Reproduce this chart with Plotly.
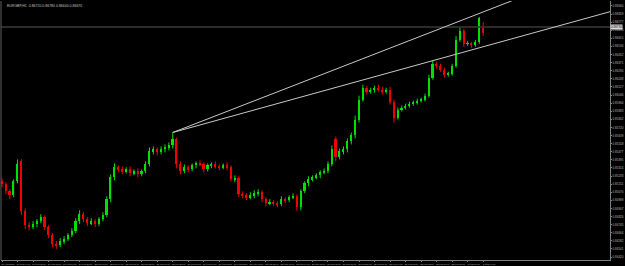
import plotly.graph_objects as go

# ---------------- data ----------------
opens = [0.8518,0.8515,0.8508,0.8504,0.8518,0.8538,0.8488,0.8474,0.8472,0.8475,
         0.8478,0.8482,0.8472,0.8464,0.8455,0.8454,0.8458,0.8460,0.8464,0.8468,
         0.8478,0.8485,0.8480,0.8476,0.8478,0.8475,0.8480,0.8484,0.8500,0.8522,
         0.8532,0.8530,0.8528,0.8530,0.8526,0.8528,0.8525,0.8528,0.8535,0.8548,
         0.8550,0.8547,0.8550,0.8552,0.8554,0.8560,0.8535,0.8528,0.8532,0.8530,
         0.8534,0.8536,0.8535,0.8530,0.8534,0.8535,0.8533,0.8532,0.8534,0.8532,
         0.8520,0.8521,0.8505,0.8504,0.8502,0.8504,0.8506,0.8507,0.8500,0.8496,
         0.8497,0.8496,0.8495,0.8500,0.8499,0.8502,0.8503,0.8492,0.8508,0.8516,
         0.8520,0.8522,0.8524,0.8527,0.8528,0.8535,0.8560,0.8542,0.8548,0.8550,
         0.8558,0.8564,0.8580,0.8600,0.8612,0.8608,0.8610,0.8612,0.8610,0.8608,
         0.8610,0.8598,0.8582,0.8590,0.8592,0.8594,0.8596,0.8597,0.8599,0.8600,
         0.8604,0.8622,0.8636,0.8634,0.8630,0.8625,0.8626,0.8634,0.8660,0.8669,
         0.8656,0.8656,0.8655,0.8658,0.8672]
highs = [0.8521,0.8517,0.8510,0.8520,0.8540,0.8540,0.8491,0.8477,0.8478,0.8480,
         0.8485,0.8484,0.8474,0.8466,0.8458,0.8461,0.8463,0.8466,0.8471,0.8481,
         0.8489,0.8487,0.8482,0.8481,0.8480,0.8482,0.8487,0.8503,0.8525,0.8536,
         0.8534,0.8533,0.8532,0.8533,0.8530,0.8531,0.8530,0.8538,0.8552,0.8553,
         0.8552,0.8553,0.8555,0.8557,0.8567,0.8562,0.8538,0.8535,0.8534,0.8536,
         0.8538,0.8539,0.8537,0.8536,0.8537,0.8538,0.8535,0.8536,0.8537,0.8534,
         0.8524,0.8523,0.8508,0.8506,0.8507,0.8509,0.8510,0.8509,0.8502,0.8500,
         0.8499,0.8498,0.8503,0.8502,0.8504,0.8506,0.8505,0.8510,0.8518,0.8523,
         0.8524,0.8526,0.8529,0.8531,0.8538,0.8554,0.8563,0.8551,0.8553,0.8561,
         0.8567,0.8584,0.8604,0.8615,0.8614,0.8612,0.8614,0.8615,0.8613,0.8612,
         0.8613,0.8600,0.8592,0.8594,0.8596,0.8598,0.8599,0.8601,0.8602,0.8606,
         0.8625,0.8639,0.8638,0.8636,0.8632,0.8628,0.8636,0.8664,0.8672,0.8671,
         0.8659,0.8658,0.8660,0.8683,0.8678]
lows = [0.8512,0.8505,0.8500,0.8502,0.8516,0.8484,0.8470,0.8469,0.8470,0.8472,
        0.8476,0.8469,0.8461,0.8452,0.8450,0.8452,0.8455,0.8458,0.8462,0.8466,
        0.8475,0.8477,0.8473,0.8474,0.8472,0.8473,0.8478,0.8482,0.8497,0.8519,
        0.8527,0.8525,0.8526,0.8523,0.8524,0.8522,0.8523,0.8526,0.8533,0.8545,
        0.8544,0.8545,0.8547,0.8549,0.8551,0.8531,0.8525,0.8526,0.8527,0.8528,
        0.8531,0.8533,0.8527,0.8528,0.8531,0.8531,0.8529,0.8530,0.8529,0.8518,
        0.8517,0.8502,0.8501,0.8499,0.8500,0.8501,0.8503,0.8497,0.8493,0.8494,
        0.8493,0.8492,0.8493,0.8496,0.8497,0.8500,0.8488,0.8489,0.8506,0.8513,
        0.8518,0.8520,0.8521,0.8525,0.8526,0.8533,0.8538,0.8540,0.8545,0.8547,
        0.8555,0.8561,0.8577,0.8598,0.8605,0.8606,0.8607,0.8608,0.8605,0.8606,
        0.8595,0.8577,0.8580,0.8588,0.8590,0.8592,0.8594,0.8595,0.8597,0.8598,
        0.8602,0.8620,0.8631,0.8628,0.8622,0.8623,0.8624,0.8632,0.8658,0.8653,
        0.8654,0.8652,0.8653,0.8656,0.8664]
closes = [0.8515,0.8508,0.8504,0.8518,0.8535,0.8488,0.8474,0.8472,0.8475,0.8478,
          0.8482,0.8472,0.8464,0.8455,0.8454,0.8458,0.8460,0.8464,0.8468,0.8478,
          0.8485,0.8480,0.8476,0.8478,0.8475,0.8480,0.8484,0.8500,0.8522,0.8532,
          0.8530,0.8528,0.8530,0.8526,0.8528,0.8525,0.8528,0.8535,0.8548,0.8550,
          0.8547,0.8550,0.8552,0.8554,0.8560,0.8535,0.8528,0.8532,0.8530,0.8534,
          0.8536,0.8535,0.8530,0.8534,0.8535,0.8533,0.8532,0.8534,0.8532,0.8520,
          0.8521,0.8505,0.8504,0.8502,0.8504,0.8506,0.8507,0.8500,0.8496,0.8497,
          0.8496,0.8495,0.8500,0.8499,0.8502,0.8503,0.8492,0.8508,0.8516,0.8520,
          0.8522,0.8524,0.8527,0.8528,0.8535,0.8550,0.8542,0.8548,0.8550,0.8558,
          0.8564,0.8580,0.8600,0.8612,0.8608,0.8610,0.8612,0.8610,0.8608,0.8610,
          0.8598,0.8582,0.8590,0.8592,0.8594,0.8596,0.8597,0.8599,0.8600,0.8604,
          0.8622,0.8636,0.8634,0.8630,0.8625,0.8626,0.8634,0.8660,0.8669,0.8656,
          0.8656,0.8655,0.8658,0.8682,0.8667]

time_labels = ["24 Feb 2020","24 Feb 04:00","24 Feb 08:00","24 Feb 12:00","24 Feb 16:00",
               "24 Feb 20:00","25 Feb 00:00","25 Feb 04:00","25 Feb 08:00","25 Feb 12:00",
               "25 Feb 16:00","25 Feb 20:00","26 Feb 00:00","26 Feb 04:00","26 Feb 08:00",
               "26 Feb 12:00","26 Feb 16:00","26 Feb 20:00","27 Feb 00:00","27 Feb 04:00",
               "27 Feb 08:00","27 Feb 12:00","27 Feb 16:00","27 Feb 20:00","28 Feb 00:00",
               "28 Feb 04:00","28 Feb 08:00","28 Feb 12:00","28 Feb 16:00","28 Feb 20:00",
               "2 Mar 00:00","2 Mar 04:00"]
label_bars = [0,4,8,12,16,20,24,28,32,36,40,44,48,52,56,60,64,68,72,76,80,84,88,92,96,
              100,104,108,112,116,120,124]

price_ticks = [0.86940,0.86859,0.86777,0.86696,0.86615,0.86534,0.86452,0.86371,0.86290,
               0.86208,0.86127,0.86046,0.85964,0.85883,0.85802,0.85720,0.85639,0.85558,
               0.85477,0.85395,0.85314,0.85233,0.85151,0.85070,0.84989,0.84907,0.84826,
               0.84745,0.84664,0.84582,0.84501,0.84420]

trend_upper_bars = [44, 160]
trend_upper_prices = [0.8567, 0.87425]
trend_lower_bars = [44, 157]
trend_lower_prices = [0.8567, 0.86886]

bid_price = 0.8673
header_text = "EURGBP,H1  0.86720 0.86780 0.86640 0.86670"

# ---------------- figure ----------------
UP = "#00e000"
DN = "#f00000"
MIN_BODY = 0.00003

fig = go.Figure()

for is_up, col in ((True, UP), (False, DN)):
    idx = [i for i in range(len(closes)) if (closes[i] >= opens[i]) == is_up]
    wx, wy = [], []
    for i in idx:
        wx += [i, i, None]
        wy += [lows[i], highs[i], None]
    fig.add_trace(go.Scatter(x=wx, y=wy, mode="lines", line=dict(color=col, width=1),
                             hoverinfo="skip", showlegend=False, connectgaps=False))
    fig.add_trace(go.Bar(x=idx,
                         y=[max(abs(closes[i] - opens[i]), MIN_BODY) for i in idx],
                         base=[min(closes[i], opens[i]) for i in idx],
                         width=0.42, marker=dict(color=col, line=dict(width=0)),
                         hoverinfo="skip", showlegend=False))

# bid line
fig.add_trace(go.Scatter(x=[-1, 170], y=[bid_price, bid_price], mode="lines",
                         line=dict(color="#3a3a3a", width=1.5), hoverinfo="skip",
                         showlegend=False))
# trendlines
fig.add_trace(go.Scatter(x=trend_upper_bars, y=trend_upper_prices, mode="lines",
                         line=dict(color="#c8c8c8", width=1), hoverinfo="skip",
                         showlegend=False))
fig.add_trace(go.Scatter(x=trend_lower_bars, y=trend_lower_prices, mode="lines",
                         line=dict(color="#c8c8c8", width=1), hoverinfo="skip",
                         showlegend=False))

narrow = "Liberation Sans Narrow, Arial Narrow, Liberation Sans, sans-serif"
x_tick_font = dict(family=narrow, size=2.3, color="#b8b8b8")
y_tick_font = dict(family=narrow, size=3.0, color="#b8b8b8")

fig.update_layout(
    width=625, height=266,
    margin=dict(l=1, r=12, t=1, b=5),
    paper_bgcolor="#000000", plot_bgcolor="#000000",
    showlegend=False, hovermode=False, bargap=0, barmode="overlay",
    xaxis=dict(range=[-0.26, 156.67],
               tickmode="array", tickvals=label_bars, ticktext=time_labels,
               tickangle=0, tickfont=x_tick_font, ticks="outside", ticklen=1,
               tickcolor="#808080",
               showgrid=False, zeroline=False, showline=True, linecolor="#808080",
               linewidth=1, ticklabelshift=6, ticklabelstandoff=0),
    yaxis=dict(range=[0.8439, 0.8699], side="right",
               tickmode="array", tickvals=price_ticks,
               ticktext=[f"{v:.5f}" for v in price_ticks],
               tickfont=y_tick_font, ticks="outside", ticklen=1, tickcolor="#808080",
               showgrid=False, zeroline=False, showline=True, linecolor="#808080",
               linewidth=1, ticklabelstandoff=0),
)

fig.add_shape(type="line", xref="paper", yref="paper", x0=0, x1=0, y0=0, y1=1,
              line=dict(color="#606060", width=1))

fig.add_annotation(xref="paper", yref="paper", x=0.006, y=0.995, xanchor="left",
                   yanchor="top", text=header_text, showarrow=False,
                   font=dict(family=narrow, size=3.5, color="#c0c0c0"))
fig.add_annotation(xref="paper", yref="y", x=1.0, y=bid_price, xanchor="left",
                   yanchor="middle", text=f"{bid_price:.5f}", showarrow=False,
                   bgcolor="#d8d8d8", borderpad=0,
                   font=dict(family=narrow, size=3.0, color="#000000"))

fig.write_html("out.html")
